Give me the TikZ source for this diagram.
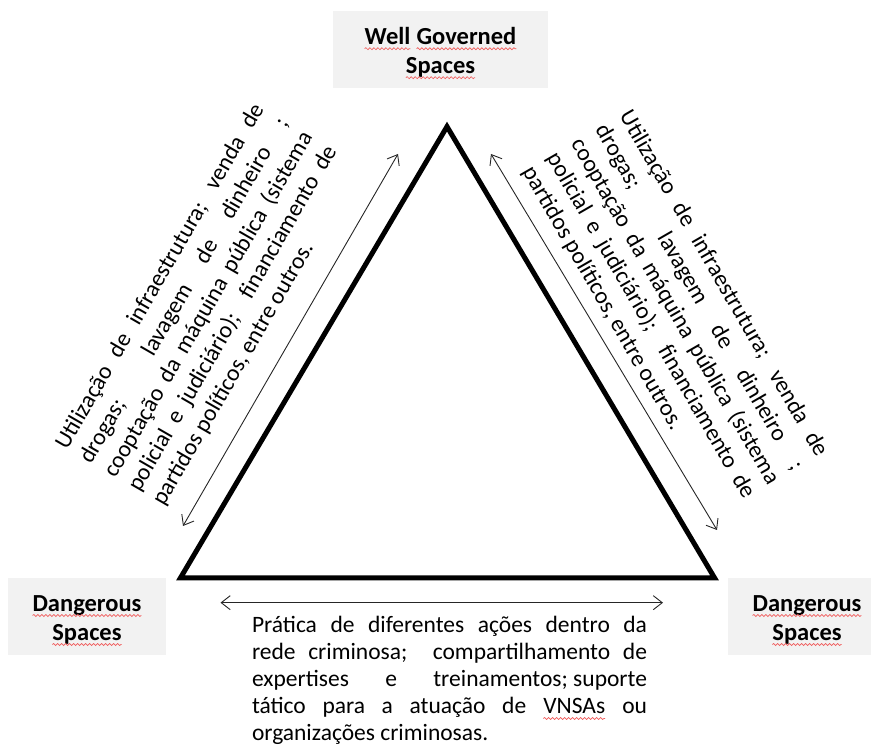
\documentclass[tikz,border=0pt]{standalone}
\usepackage{fontspec}
\setmainfont{Carlito}
\usepackage{xcolor}
\usetikzlibrary{arrows.meta,decorations.pathmorphing}

\definecolor{boxgray}{HTML}{F2F2F2}
\definecolor{squigred}{HTML}{F05A5A}
\definecolor{inkgray}{HTML}{262626}

\tikzset{squigline/.style={draw=squigred, line width=0.7pt, decorate,
  decoration={snake, amplitude=1pt, segment length=4pt}},
  squigword/.style={inner sep=0pt, outer sep=0pt, minimum width=0pt,
  minimum height=0pt, fill=none, draw=none, align=left}}
% red wavy underline (spell-check style)
\newcommand{\squig}[1]{\tikz[baseline=(sqw.base)]{\node[squigword] (sqw) {#1};
  \draw[squigline] ([yshift=-4.5pt]sqw.base west) -- ([yshift=-4.5pt]sqw.base east);}}
% one justified line of a 395pt wide block
\newcommand{\jline}[1]{\makebox[395pt][s]{#1}}
% five-line justified block (#1 = line pitch), last line at natural width
\newcommand{\blocktext}[6]{\parbox[t]{395pt}{\fontsize{23.5}{#1}\selectfont\setlength{\parindent}{0pt}%
  \jline{#2}\par\jline{#3}\par\jline{#4}\par\jline{#5}\par #6\par}}

\begin{document}
\begin{tikzpicture}[x=1pt,y=1pt,
  every node/.style={inner sep=0pt, outer sep=0pt},
  namebox/.style={fill=boxgray, minimum width=#1, minimum height=77pt},
  nametext/.style={align=center, font=\fontsize{24.5}{29}\selectfont\bfseries},
  textblock/.style={anchor=base west},
  frame/.style={line width=5pt, line join=miter},
  link/.style={line width=0.9pt, draw=inkgray, <->,
    >={Straight Barb[length=9pt,width=14pt]}}]

\useasboundingbox (0,0) rectangle (871,746);
\clip (0,0) rectangle (871,746);

% triangle
\coordinate (apex) at (447,619.4);
\coordinate (baseL) at (180.4,168);
\coordinate (baseR) at (714.6,168);
\draw[frame] (apex) -- (baseL) -- (baseR) -- cycle;

% corner labels: grey panels and their captions
\node[namebox=215pt] (wellbox) at (440.5,696) {};
\node[namebox=158pt] (dangLbox) at (87,129.5) {};
\node[namebox=158pt] (dangRbox) at (807,129.5) {};
\node[nametext] (well) at ([yshift=-3pt]wellbox.center) {\squig{Well} \squig{Governed}\\\squig{Spaces}};
\node[nametext] (dangL) at ([yshift=-4pt]dangLbox.center) {\squig{Dangerous}\\\squig{Spaces}};
\node[nametext] (dangR) at ([yshift=-4pt]dangRbox.center) {\squig{Dangerous}\\\squig{Spaces}};

% double arrows along the sides
\coordinate (lA) at (183,220);   \coordinate (lB) at (398,592);
\coordinate (rA) at (491,592);   \coordinate (rB) at (717,216);
\coordinate (bA) at (220.5,143.3); \coordinate (bB) at (663,143.3);
\draw[link] (lA) -- (lB);
\draw[link] (rA) -- (rB);
\draw[link] (bA) -- (bB);

% side notes
\node[textblock, rotate=60] (leftnote) at (67,295) {\blocktext{28}
  {Utilização de infraestrutura; venda de}
  {drogas;\ \ lavagem de dinheiro ;}
  {cooptação da máquina pública (sistema}
  {policial e judiciário);\ \ financiamento de}
  {partidos políticos, entre outros.}};

\node[textblock, rotate=-60] (rightnote) at (619,630) {\blocktext{28}
  {Utilização de infraestrutura; venda de}
  {drogas;\ \ lavagem de dinheiro ;}
  {cooptação da máquina pública (sistema}
  {policial e judiciário);\ \ financiamento de}
  {partidos políticos, entre outros.}};

\node[textblock] (basenote) at (252,113) {\blocktext{27}
  {Prática de diferentes ações dentro da}
  {rede criminosa;\ \ compartilhamento de}
  {expertises\hfill e\hfill treinamentos; suporte}
  {tático para a atuação de \squig{VNSAs} ou}
  {organizações criminosas.}};
\end{tikzpicture}
\end{document}
